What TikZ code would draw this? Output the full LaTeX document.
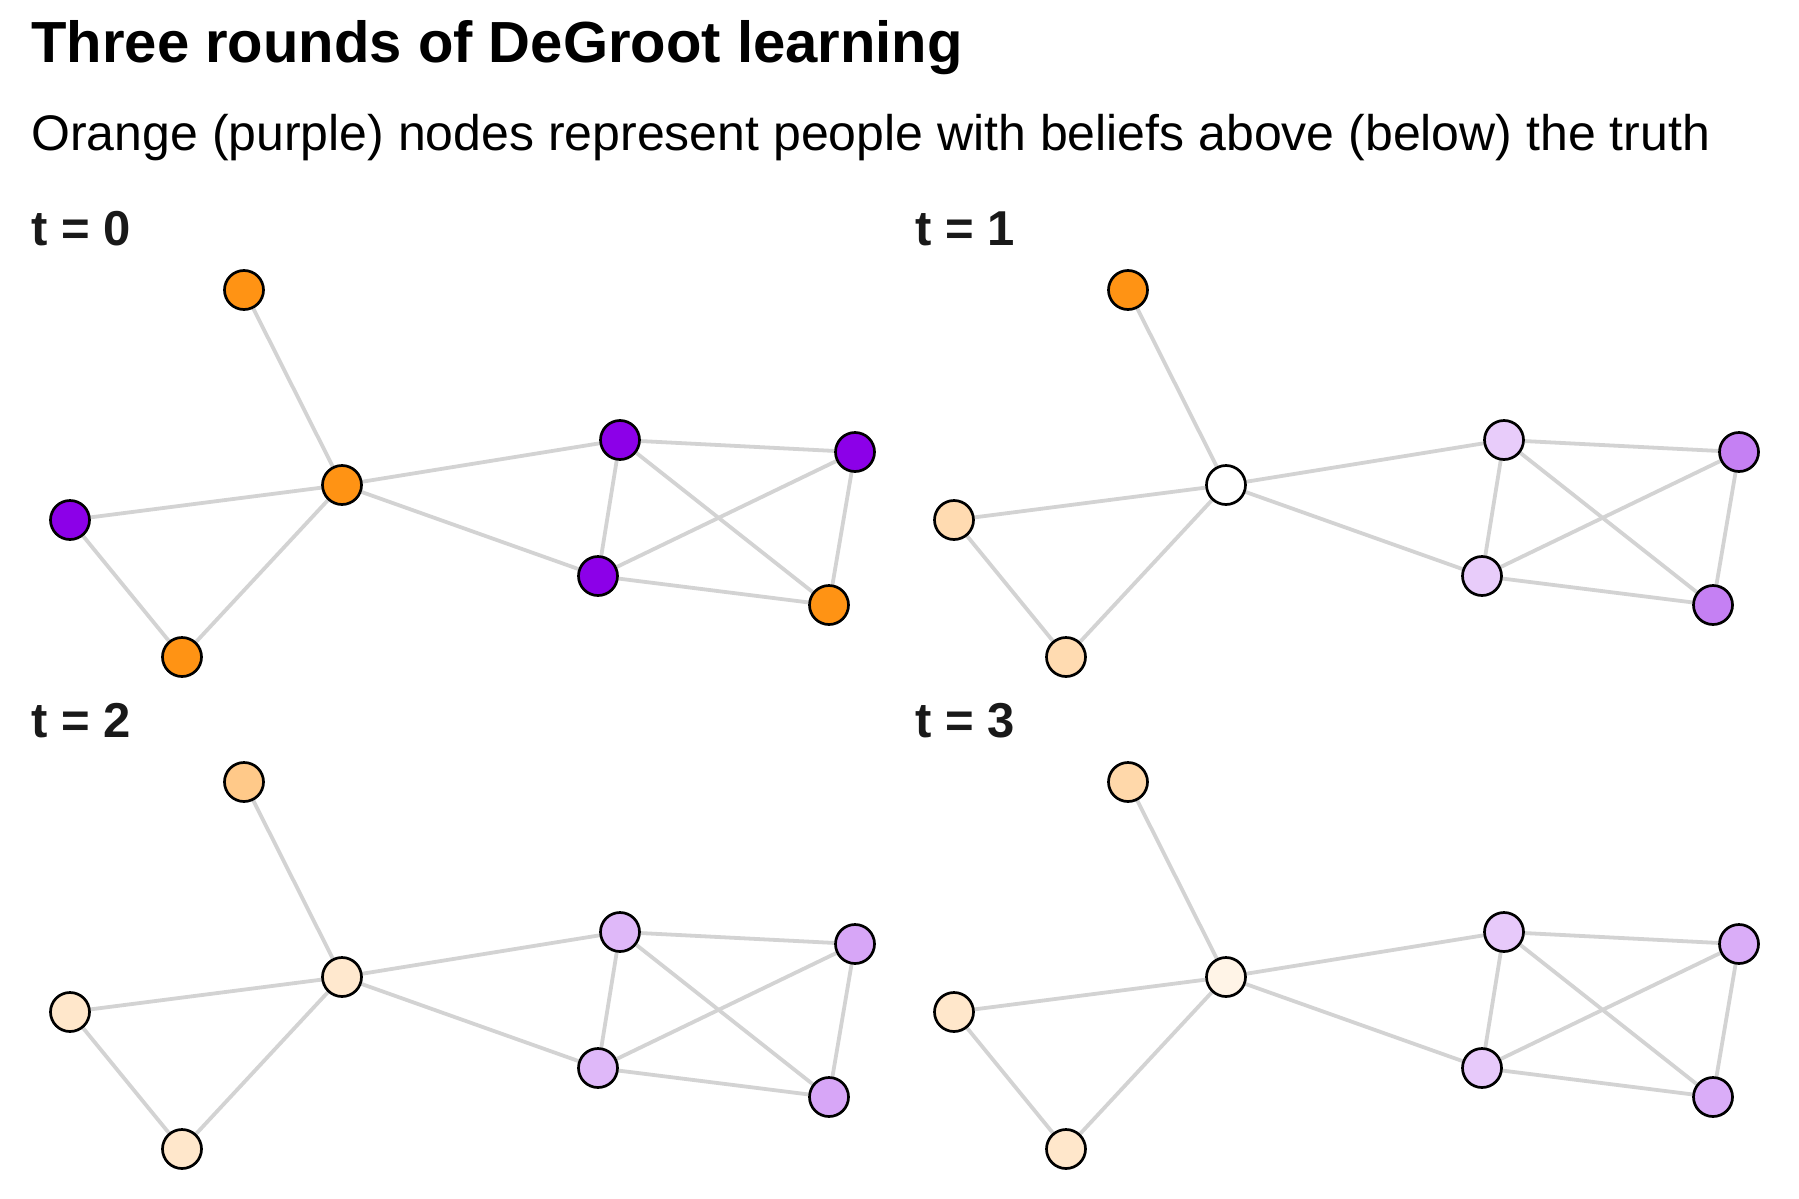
\documentclass[tikz,border=0pt]{standalone}
\usepackage{fontspec}
\setmainfont{Liberation Sans}
\usetikzlibrary{backgrounds}
\definecolor{orng}{HTML}{FF9314}
\definecolor{prpl}{HTML}{8C00E8}
\definecolor{tiegray}{HTML}{D3D3D3}
\tikzset{
  person/.style={circle,draw=black,line width=1.35pt,minimum size=19.5pt,inner sep=0pt,fill=#1!white},
  tie/.style={tiegray,line width=1.9pt},
  roundlabel/.style={anchor=base west,inner sep=0pt,font=\bfseries\fontsize{24.5}{29}\selectfont,text=black!90}
}
\begin{document}
\begin{tikzpicture}[x=0.5pt,y=-0.5pt]
\useasboundingbox (0,0) rectangle (1799,1199);
\node[anchor=base west,inner sep=0pt,font=\bfseries\fontsize{29}{34}\selectfont] (title) at (31,62) {Three rounds of DeGroot learning};
\node[anchor=base west,inner sep=0pt,font=\fontsize{25}{30}\selectfont] (subtitle) at (31,150) {Orange (purple) nodes represent people with beliefs above (below) the truth};
% one panel per round: shift, then the beliefs of the eight people
\foreach \t/\sx/\sy/\va/\vc/\vl/\vb/\vp/\vq/\vr/\vs in {
    0/0/0/orng!100/orng!100/prpl!100/orng!100/prpl!100/prpl!100/prpl!100/orng!100,
    1/884/0/orng!100/orng!0/orng!33/orng!33/prpl!20/prpl!50/prpl!20/prpl!50,
    2/0/492/orng!50/orng!21/orng!22/orng!22/prpl!28/prpl!35/prpl!28/prpl!35,
    3/884/492/orng!36/orng!10/orng!22/orng!22/prpl!21/prpl!32/prpl!21/prpl!32}
{
  \begin{scope}[shift={(\sx,\sy)}]
    \node[roundlabel] (lab\t) at (31,245) {t = \t};
    \node[person=\va] (a\t) at (244,290) {};
    \node[person=\vc] (c\t) at (342,485) {};
    \node[person=\vl] (l\t) at (70,520) {};
    \node[person=\vb] (b\t) at (182,657) {};
    \node[person=\vp] (p\t) at (620,440) {};
    \node[person=\vq] (q\t) at (855,452) {};
    \node[person=\vr] (r\t) at (598,576) {};
    \node[person=\vs] (s\t) at (829,605) {};
    \begin{scope}[on background layer]
      \draw[tie] (a\t) -- (c\t);
      \draw[tie] (c\t) -- (l\t) -- (b\t) -- (c\t);
      \draw[tie] (c\t) -- (p\t);
      \draw[tie] (c\t) -- (r\t);
      \draw[tie] (p\t) -- (q\t) -- (s\t) -- (r\t) -- (p\t);
      \draw[tie] (p\t) -- (s\t);
      \draw[tie] (q\t) -- (r\t);
    \end{scope}
  \end{scope}
}
\end{tikzpicture}
\end{document}
